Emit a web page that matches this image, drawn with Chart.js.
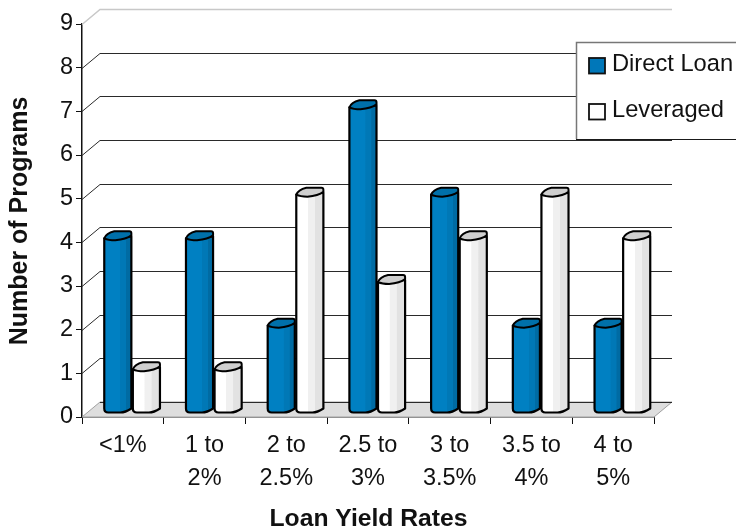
<!DOCTYPE html>
<html>
<head>
<meta charset="utf-8">
<script src="https://cdn.jsdelivr.net/npm/chart.js@4"></script>
<style>html,body{margin:0;padding:0;background:#fff}#w{width:736px;height:531px;position:relative}</style>
</head>
<body>
<div id="w"><canvas id="c"></canvas></div>
<script>
const categories = [['<1%'],['1 to','2%'],['2 to','2.5%'],['2.5 to','3%'],['3 to','3.5%'],['3.5 to','4%'],['4 to','5%']];
const directLoan = [4,4,2,7,5,2,2];
const leveraged = [1,1,5,3,4,5,4];
const yTicks = [0,1,2,3,4,5,6,7,8,9];
const xTitle = 'Loan Yield Rates';
const yTitle = 'Number of Programs';
const FONT = '"Liberation Sans", Arial, sans-serif';
const DEPTH_X = 18, DEPTH_Y = 15, SHIFT_X = 9, SHIFT_Y = 4;
const palettes = [
  {stops:[[0,'#0080c2'],[.58,'#0080c2'],[.6,'#0078b6'],[.8,'#0078b6'],[.82,'#006ba3'],[1,'#006ba3']],cap:'#0070aa',legend:'#0077b9'},
  {stops:[[0,'#ffffff'],[.42,'#ffffff'],[.44,'#f0f0f0'],[.68,'#f0f0f0'],[.7,'#e2e2e2'],[1,'#e2e2e2']],cap:'#cfcfcf',legend:'#ffffff'}
];

function barPath(ctx,l,r,top,bot){
  ctx.beginPath();
  ctx.moveTo(l,top);
  ctx.lineTo(l,bot-4);
  ctx.quadraticCurveTo(l,bot,l+4,bot);
  ctx.lineTo(r-11,bot);
  ctx.quadraticCurveTo(r-6,bot,r,bot-4);
  ctx.lineTo(r,top-2);
  ctx.closePath();
}
function capPath(ctx,l,r,top){
  ctx.beginPath();
  ctx.moveTo(l,top);
  ctx.quadraticCurveTo(l+2,top-5,l+10,top-7);
  ctx.lineTo(r-2,top-7);
  ctx.quadraticCurveTo(r,top-7,r,top-5);
  ctx.lineTo(r,top-3);
  ctx.quadraticCurveTo(r-5,top+1,r-16,top+2);
  ctx.quadraticCurveTo(l+4,top+2,l,top);
  ctx.closePath();
}

const scene = {
  id:'scene',
  beforeDatasetsDraw(chart){
    const {ctx,scales:{x,y}} = chart;
    const L=x.left,R=x.right,B=y.getPixelForValue(0);
    ctx.save();
    ctx.beginPath();
    ctx.moveTo(L,B);ctx.lineTo(L+DEPTH_X,B-DEPTH_Y);ctx.lineTo(R+DEPTH_X,B-DEPTH_Y);ctx.lineTo(R,B);ctx.closePath();
    ctx.fillStyle='#dedede';ctx.fill();
    ctx.strokeStyle='#a0a0a0';ctx.lineWidth=1;ctx.stroke();
    yTicks.forEach(v=>{
      if(v===0) return;
      const p=Math.round(y.getPixelForValue(v))+.5;
      const last = v===yTicks[yTicks.length-1];
      ctx.strokeStyle = last ? '#c8c8c8' : '#2a2a2a';
      ctx.lineWidth = last ? 1.5 : 1;
      ctx.beginPath();
      ctx.moveTo(L,p);ctx.lineTo(L+DEPTH_X,p-DEPTH_Y);ctx.lineTo(R+DEPTH_X,p-DEPTH_Y);
      ctx.stroke();
    });
    ctx.strokeStyle='#2a2a2a';ctx.lineWidth=1;
    ctx.beginPath();ctx.moveTo(L+DEPTH_X,B-DEPTH_Y+.5);ctx.lineTo(R+DEPTH_X,B-DEPTH_Y+.5);ctx.stroke();
    ctx.restore();
  },
  beforeDatasetDraw(chart,args){
    const {ctx}=chart, pal=palettes[args.index];
    const meta=chart.getDatasetMeta(args.index);
    ctx.save();
    ctx.translate(SHIFT_X,-SHIFT_Y);
    ctx.lineJoin='round';
    meta.data.forEach(el=>{
      const b=el.getProps(['x','y','base','width'],true);
      const l=b.x-b.width/2+1, r=b.x+b.width/2-.5;
      const g=ctx.createLinearGradient(l,0,r,0);
      pal.stops.forEach(s=>g.addColorStop(s[0],s[1]));
      barPath(ctx,l,r,b.y,b.base);
      ctx.fillStyle=g;ctx.fill();
      ctx.strokeStyle='#000';ctx.lineWidth=2.2;ctx.stroke();
      capPath(ctx,l,r,b.y);
      ctx.fillStyle=pal.cap;ctx.fill();
      ctx.strokeStyle='#000';ctx.lineWidth=2;ctx.stroke();
    });
    ctx.restore();
    return false;
  },
  afterDraw(chart){
    const {ctx}=chart;
    ctx.save();
    ctx.fillStyle='#fff';ctx.fillRect(576,42,160,97);
    ctx.strokeStyle='#777';ctx.lineWidth=1.5;
    ctx.beginPath();ctx.moveTo(736,42.5);ctx.lineTo(576.5,42.5);ctx.lineTo(576.5,139);ctx.stroke();
    ctx.strokeStyle='#1a1a1a';ctx.lineWidth=1;
    ctx.beginPath();ctx.moveTo(576,139.5);ctx.lineTo(736,139.5);ctx.stroke();
    const rows=[[58,71],[104,117.5]];
    chart.data.datasets.forEach((d,i)=>{
      ctx.fillStyle=palettes[i].legend;ctx.strokeStyle='#111';ctx.lineWidth=1.8;
      ctx.fillRect(589,rows[i][0],16,15.5);ctx.strokeRect(589,rows[i][0],16,15.5);
      ctx.fillStyle='#111';ctx.font='23.7px '+FONT;ctx.textAlign='left';ctx.textBaseline='alphabetic';
      ctx.fillText(d.label,612,rows[i][1]-.5);
    });
    ctx.font='bold 24.7px '+FONT;ctx.fillStyle='#111';ctx.textAlign='center';ctx.textBaseline='alphabetic';
    ctx.fillText(xTitle,368.5,526);
    ctx.translate(27,221);ctx.rotate(-Math.PI/2);
    ctx.font='bold 25px '+FONT;
    ctx.fillText(yTitle,0,0);
    ctx.restore();
  }
};

new Chart(document.getElementById('c'),{
  type:'bar',
  data:{labels:categories,datasets:[
    {label:'Direct Loan',data:directLoan,backgroundColor:palettes[0].legend,categoryPercentage:.7,barPercentage:1},
    {label:'Leveraged',data:leveraged,backgroundColor:palettes[1].legend,categoryPercentage:.7,barPercentage:1}
  ]},
  options:{
    responsive:true,maintainAspectRatio:false,animation:false,
    layout:{padding:{top:24,right:82,left:0,bottom:0}},
    plugins:{legend:{display:false},tooltip:{enabled:false},title:{display:false}},
    scales:{
      x:{
        grid:{drawOnChartArea:false,offset:true,tickLength:7,color:'#111',lineWidth:1},
        border:{color:'#111',width:1.5},
        ticks:{color:'#111',font:{family:FONT,size:23.5,lineHeight:1.4},padding:5,maxRotation:0,autoSkip:false},
        afterFit(s){s.height=114;}
      },
      y:{
        min:0,max:9,
        grid:{drawOnChartArea:false,tickLength:6,color:'#111',lineWidth:1},
        border:{color:'#111',width:1.5},
        ticks:{stepSize:1,color:'#111',font:{family:FONT,size:23.5},padding:3},
        afterFit(s){s.width=82;}
      }
    }
  },
  plugins:[scene]
});
</script>
</body>
</html>
